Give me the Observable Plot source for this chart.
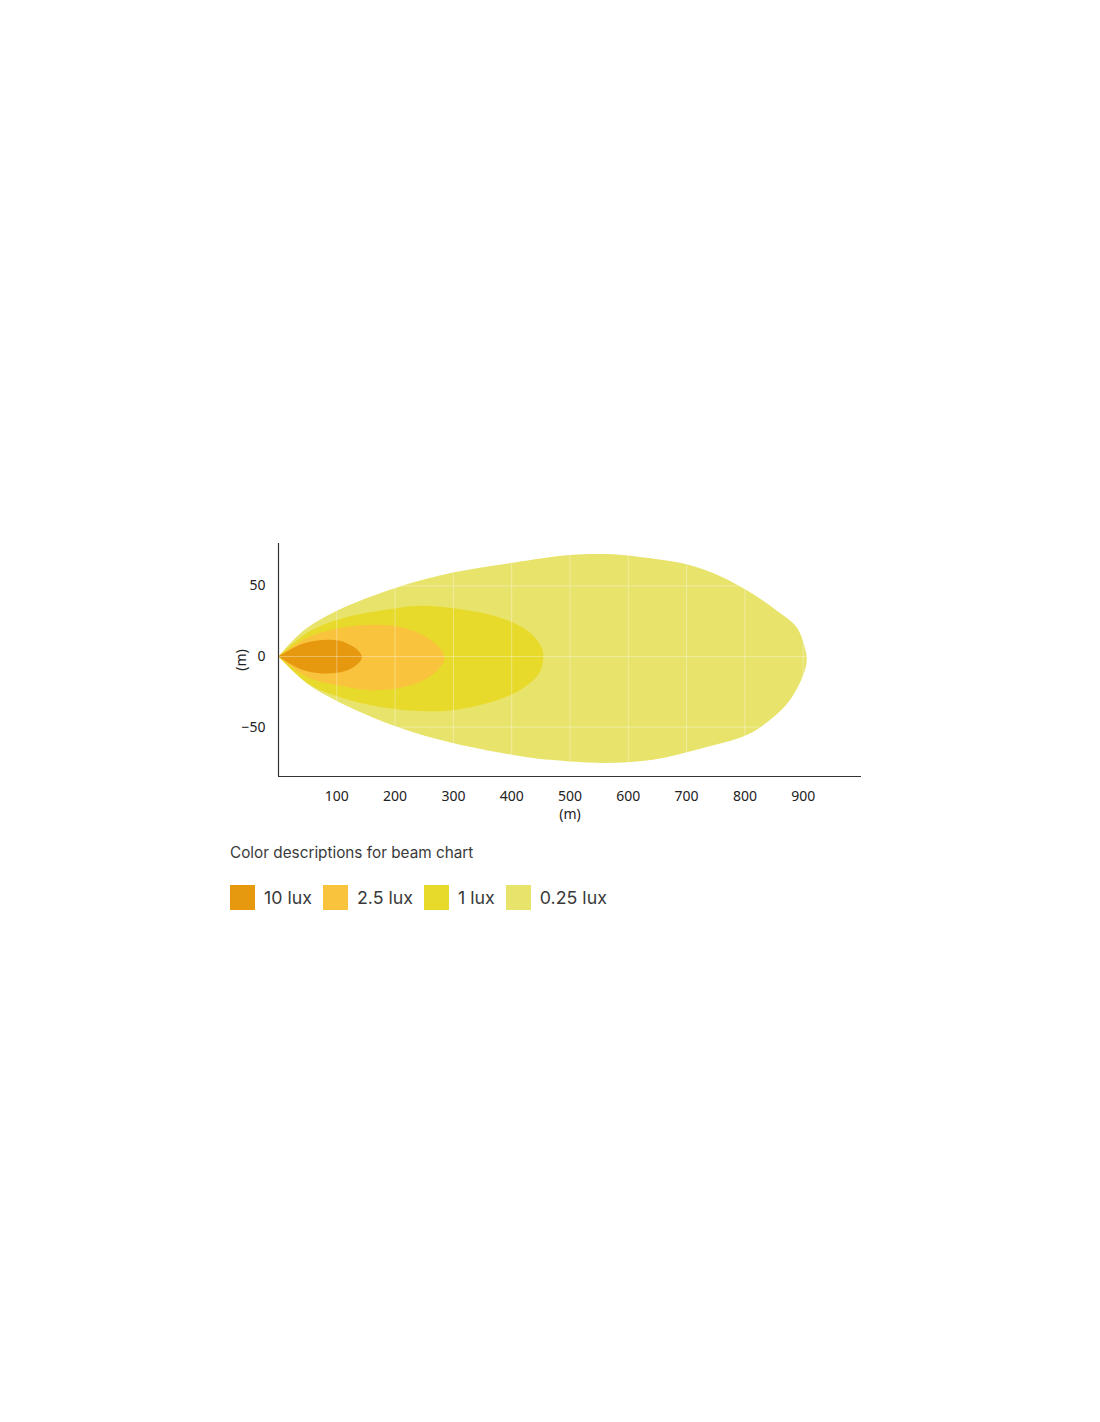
<!DOCTYPE html>
<html>
<head>
<meta charset="utf-8">
<script src="https://cdn.jsdelivr.net/npm/d3@7"></script>
<script src="https://cdn.jsdelivr.net/npm/@observablehq/plot@0.6"></script>
<style>
  html, body { margin: 0; padding: 0; background: #fff; }
  body { width: 1100px; height: 1422px; position: relative; }
  #chart { position: absolute; left: 220px; top: 530px; }
  #title { position: absolute; left: 230px; top: 844px; font-family: Inter, "Noto Sans", sans-serif; font-size: 15.3px; line-height: 18px; color: #3a3a3a; }
  #legend { position: absolute; left: 230px; top: 885px; display: flex; align-items: center; font-family: Inter, "Noto Sans", sans-serif; font-size: 17.8px; color: #3a3a3a; }
  .item { display: flex; align-items: center; margin-right: 11px; }
  .sw { width: 25px; height: 25px; margin-right: 9px; }
</style>
</head>
<body>
<div id="chart"></div>
<div id="title">Color descriptions for beam chart</div>
<div id="legend"></div>
<script>
// Legend categories and colours
const levels = ["10 lux", "2.5 lux", "1 lux", "0.25 lux"];
const levelColors = ["#E6990E", "#F9C33E", "#E7DA2A", "#E8E36B"];

// Tick values
const xTicks = [100, 200, 300, 400, 500, 600, 700, 800, 900];
const yTicks = [-50, 0, 50];

// Beam outlines (metres): from origin along upper edge to tip, back along lower edge
const lux025X = [0, 25, 50, 100, 203, 299, 402, 500, 560, 620, 700, 757, 813, 855, 889, 903, 906, 901, 877, 843, 803, 728, 642, 556, 466, 402, 299, 203, 100, 50, 25, 0];
const lux025Y = [0, 11.5, 20.5, 32.4, 48.8, 59.4, 66.4, 71.8, 72.5, 70.5, 65.3, 57, 44.4, 32.4, 20.6, 6, -3, -12, -31, -45, -55.6, -64.8, -73.2, -75.4, -73.2, -69.7, -61.3, -49.8, -31.5, -19.5, -10.5, 0];

const lux1X = [0, 53, 110, 184, 243, 328, 385, 431, 452, 454, 448, 419, 375, 299, 243, 184, 110, 53, 0];
const lux1Y = [0, 17.6, 27, 33, 35.9, 32.4, 26.8, 16.9, 5.6, -0.7, -11.3, -22.5, -31, -38, -38.7, -36.4, -29.4, -19.7, 0];

const lux25X_ = [0, 53, 110, 165, 213, 255, 277, 285, 277, 255, 213, 157, 110, 53, 0];
const lux25Y_ = [0, 14, 20.3, 22.5, 20.5, 13.4, 5.6, -1.4, -7.7, -15.5, -21.8, -23.9, -21, -15.3, 0];

const lux10X = [0, 40, 75, 105, 128, 140, 143, 139, 125, 100, 70, 38, 0];
const lux10Y = [0, 8.8, 11.6, 11.2, 7, 2.5, -0.5, -4, -8.5, -11.6, -11.8, -9, 0];

const toPts = (xs, ys) => xs.map((x, i) => ({x, y: ys[i]}));
const shapes = [
  {pts: toPts(lux025X, lux025Y), color: levelColors[3]},
  {pts: toPts(lux1X, lux1Y), color: levelColors[2]},
  {pts: toPts(lux25X_, lux25Y_), color: levelColors[1]},
  {pts: toPts(lux10X, lux10Y), color: levelColors[0]}
];

const plot = Plot.plot({
  width: 650,
  height: 296,
  marginLeft: 58,
  marginRight: 9,
  marginTop: 13,
  marginBottom: 50,
  style: {fontFamily: "'Noto Sans', sans-serif", fontSize: "14px", color: "#333", background: "transparent"},
  x: {domain: [0, 1000]},
  y: {domain: [-85, 80]},
  marks: [
    ...shapes.map(s => Plot.line(s.pts, {x: "x", y: "y", fill: s.color, stroke: "none", curve: "catmull-rom"})),
    Plot.gridX(xTicks, {stroke: "#ffffff", strokeOpacity: 0.35, strokeWidth: 1}),
    Plot.gridY(yTicks, {stroke: "#ffffff", strokeOpacity: 0.35, strokeWidth: 1}),
    Plot.axisX(xTicks, {tickSize: 0, tickPadding: 15, label: "(m)", labelAnchor: "center", labelArrow: "none", labelOffset: 42, fill: "#222"}),
    Plot.axisY(yTicks, {tickSize: 0, tickPadding: 13, label: "(m)", labelAnchor: "center", labelArrow: "none", labelOffset: 42, fill: "#222"}),
    Plot.ruleX([0], {stroke: "#333", strokeWidth: 1.2}),
    Plot.ruleY([-85], {stroke: "#333", strokeWidth: 1.2})
  ]
});
document.getElementById("chart").appendChild(plot);

const legend = document.getElementById("legend");
levels.forEach((name, i) => {
  const item = document.createElement("div");
  item.className = "item";
  const sw = document.createElement("div");
  sw.className = "sw";
  sw.style.background = levelColors[i];
  const lab = document.createElement("span");
  lab.textContent = name;
  item.appendChild(sw);
  item.appendChild(lab);
  legend.appendChild(item);
});
</script>
</body>
</html>
